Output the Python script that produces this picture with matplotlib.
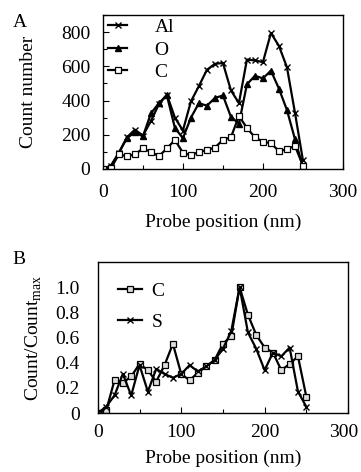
import matplotlib
matplotlib.use("Agg")
import matplotlib.pyplot as plt
import matplotlib.transforms as mtransforms
from matplotlib.ticker import MultipleLocator

plt.rcParams["font.family"] = ["Liberation Serif", "DejaVu Serif"]
plt.rcParams["mathtext.fontset"] = "custom"
plt.rcParams["mathtext.rm"] = "Liberation Serif"

# panel A: counts along the probe line
pos_a = [0, 10, 20, 30, 40, 50, 60, 70, 80, 90, 100, 110, 120, 130, 140, 150, 160,
         170, 180, 190, 200, 210, 220, 230, 240, 250]
al = [0, 20, 95, 185, 230, 195, 280, 380, 435, 300, 225, 395, 485, 580, 615, 620, 460,
      385, 640, 635, 625, 795, 720, 595, 330, 50]
o = [0, 10, 95, 180, 215, 190, 325, 385, 430, 240, 180, 300, 385, 370, 415, 430, 305,
     265, 495, 545, 530, 575, 470, 345, 175, 10]
c_a = [0, 5, 85, 75, 85, 120, 100, 75, 120, 170, 95, 80, 100, 110, 125, 170, 185,
       310, 240, 185, 160, 150, 105, 115, 135, 20]

# panel B: normalised counts
pos_b = [0, 10, 20, 30, 40, 50, 60, 70, 80, 90, 100, 110, 120, 130, 140, 150, 160,
         170, 180, 190, 200, 210, 220, 230, 240, 250]
c_b = [0, 0.02, 0.26, 0.24, 0.29, 0.39, 0.34, 0.25, 0.38, 0.55, 0.31, 0.26, 0.32, 0.37,
       0.42, 0.55, 0.61, 1.0, 0.78, 0.62, 0.52, 0.48, 0.34, 0.39, 0.45, 0.13]
s_b = [0, 0.05, 0.14, 0.31, 0.14, 0.38, 0.17, 0.35, 0.31, 0.28, 0.31, 0.38, 0.33, 0.37,
       0.42, 0.51, 0.65, 1.0, 0.64, 0.51, 0.34, 0.48, 0.45, 0.52, 0.17, 0.05]

FS = 14
fig = plt.figure(figsize=(3.61, 4.72), dpi=100)

axA = fig.add_axes([0.285, 0.642, 0.665, 0.326])
kw = dict(color="k", lw=1.6, ms=4)
axA.plot(pos_a, al, marker="x", mew=1.0, label="Al", **kw)
axA.plot(pos_a, o, marker="^", label="O", **kw)
axA.plot(pos_a, c_a, marker="s", mfc="white", mew=0.9, label="C", **kw)
axA.set_xlim(0, 300)
axA.set_ylim(0, 900)
axA.xaxis.set_major_locator(MultipleLocator(100))
axA.xaxis.set_minor_locator(MultipleLocator(50))
axA.yaxis.set_minor_locator(MultipleLocator(100))
axA.set_yticks([0, 200, 400, 600, 800])
axA.tick_params(which="both", direction="in", labelsize=FS, width=0.8)
axA.tick_params(which="major", length=4)
axA.tick_params(which="minor", length=3)
axA.tick_params(axis="y", pad=9)
axA.tick_params(axis="x", pad=11)
axA.set_xlabel("Probe position (nm)", fontsize=FS, labelpad=9)
axA.set_ylabel("Count number", fontsize=FS, labelpad=17)
axA.legend(loc="upper left", frameon=False, fontsize=FS, handlelength=1.0,
           handletextpad=1.4, labelspacing=0.25, borderaxespad=0.1,
           bbox_to_anchor=(-0.02, 1.04))
for sp in axA.spines.values():
    sp.set_linewidth(1.0)
fig.text(0.035, 0.943, "A", fontsize=FS)

axB = fig.add_axes([0.271, 0.125, 0.693, 0.320])
axB.plot(pos_b, c_b, marker="s", mfc="#dddddd", mew=0.9, label="C", **kw)
axB.plot(pos_b, s_b, marker="x", mew=1.0, label="S", **kw)
axB.set_xlim(0, 300)
axB.set_ylim(0, 1.2)
axB.set_xticks([0, 100, 200, 300])
axB.xaxis.set_minor_locator(MultipleLocator(50))
axB.set_yticks([0, 0.2, 0.4, 0.6, 0.8, 1.0])
axB.set_yticklabels(["0", "0.2", "0.4", "0.6", "0.8", "1.0"])
axB.tick_params(which="both", direction="in", labelsize=FS, width=0.8)
axB.tick_params(axis="y", length=0, pad=13)
axB.tick_params(axis="x", which="major", length=4, pad=8)
axB.tick_params(axis="x", which="minor", length=3)
axB.set_xlabel("Probe position (nm)", fontsize=FS, labelpad=6)
axB.set_ylabel(r"Count/Count$_{\mathrm{max}}$", fontsize=FS, labelpad=8)
axB.legend(loc="upper left", frameon=False, fontsize=FS, handlelength=1.25,
           handletextpad=0.5, labelspacing=0.7, borderaxespad=0.1,
           bbox_to_anchor=(0.04, 0.93))
for sp in axB.spines.values():
    sp.set_linewidth(1.0)
# keep the last tick label inside the figure
last = axB.get_xticklabels()[-1]
last.set_transform(last.get_transform() + mtransforms.ScaledTranslation(-4 / 100, 0, fig.dpi_scale_trans))
fig.text(0.035, 0.44, "B", fontsize=FS)

fig.savefig("out.png", dpi=100)
